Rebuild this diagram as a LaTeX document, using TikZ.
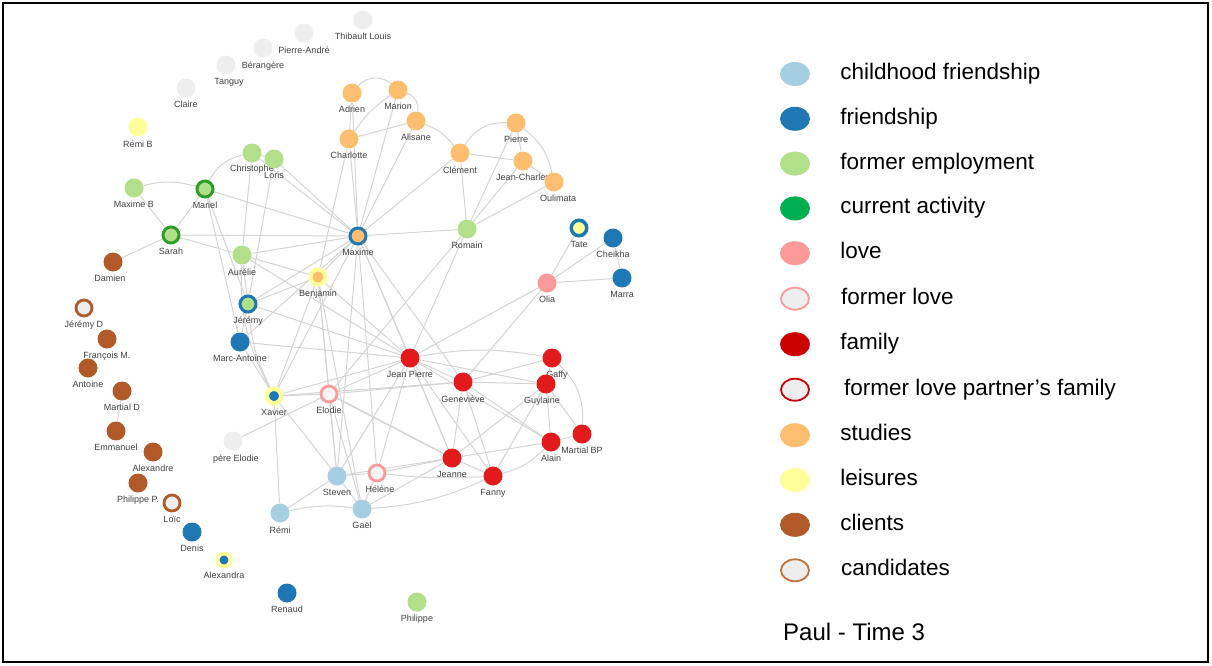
\documentclass[tikz,border=0pt]{standalone}
\usepackage{fontspec}
\setmainfont{Liberation Sans}
\usetikzlibrary{positioning,shapes.geometric,backgrounds}

\definecolor{childblue}{HTML}{A6CEE3}
\definecolor{friendblue}{HTML}{1F78B4}
\definecolor{workgreen}{HTML}{B2DF8A}
\definecolor{nowgreen}{HTML}{2E9E2A}
\definecolor{keygreen}{HTML}{00B050}
\definecolor{lovepink}{HTML}{FB9A99}
\definecolor{famred}{HTML}{E31A1C}
\definecolor{keyred}{HTML}{CC0000}
\definecolor{studyorange}{HTML}{FDBF6F}
\definecolor{leisureyellow}{HTML}{FFFF99}
\definecolor{clientbrown}{HTML}{B15928}
\definecolor{keybrown}{HTML}{C0703A}
\definecolor{nodegrey}{HTML}{EEEEEE}
\definecolor{tiegrey}{HTML}{D4D4D4}

\begin{document}
\begin{tikzpicture}
    [x=1pt, y=-1pt,
     person/.style={circle, minimum size=19pt, inner sep=0pt},
     ringed/.style={person, minimum size=16pt, line width=3pt},
     childhood/.style={person, fill=childblue},
     friend/.style={person, fill=friendblue},
     work/.style={person, fill=workgreen},
     love/.style={person, fill=lovepink},
     family/.style={person, fill=famred},
     studies/.style={person, fill=studyorange},
     leisure/.style={person, fill=leisureyellow},
     client/.style={person, fill=clientbrown},
     unknown/.style={person, fill=nodegrey},
     exlove/.style={ringed, fill=nodegrey!60!white, draw=lovepink, line width=2.8pt},
     candidate/.style={ringed, fill=nodegrey, draw=clientbrown, line width=2.8pt},
     lbl/.style={font=\fontsize{9}{10}\selectfont, text=black!75, inner sep=0.5pt},
     every label/.style={label distance=3pt},
     tie/.style={draw=tiegrey, line width=1pt},
     key/.style={ellipse, minimum width=30pt, minimum height=24pt, inner sep=0pt},
     ringkey/.style={key, minimum width=28pt, minimum height=22pt, line width=1.8pt, fill=nodegrey},
     keytext/.style={font=\fontsize{22.5}{24}\selectfont, inner sep=0pt, text height=16pt, text depth=5pt}]

  \useasboundingbox (0,0) rectangle (1212,666);
  \draw[line width=2.5pt] (3,3) rectangle (1208,662);

  % people nobody is tied to
  \node[unknown, label={[lbl]below:Thibault Louis}] (thibault) at (363,20) {};
  \node[unknown, label={[lbl]below:Pierre-André}] (pierreandre) at (304,33) {};
  \node[unknown, label={[lbl]below:Bérangère}] (berangere) at (263,48) {};
  \node[unknown, label={[lbl,xshift=3pt]below:Tanguy}] (tanguy) at (226,65) {};
  \node[unknown, label={[lbl]below:Claire}] (claire) at (186,88) {};
  \node[leisure, label={[lbl]below:Rémi B}] (remib) at (138,127) {};

  % studies
  \node[studies, label={[lbl]below:Adrien}] (adrien) at (352,93) {};
  \node[studies, label={[lbl]below:Marion}] (marion) at (398,90) {};
  \node[studies, label={[lbl]below:Alisane}] (alisane) at (416,121) {};
  \node[studies, label={[lbl]below:Charlotte}] (charlotte) at (349,139) {};
  \node[studies, label={[lbl]below:Clément}] (clement) at (460,153) {};
  \node[studies, label={[lbl]below:Pierre}] (pierre) at (516,123) {};
  \node[studies, label={[lbl]below:Jean-Charles}] (jeancharles) at (523,161) {};
  \node[studies, label={[lbl,xshift=4pt]below:Oulimata}] (oulimata) at (554,182) {};
  \node[ringed, fill=studyorange, draw=friendblue, label={[lbl]below:Maxime}] (maxime) at (358,236) {};
  \node[ringed, fill=studyorange, draw=leisureyellow, line width=4pt, minimum size=15pt, label={[lbl]below:Benjamin}] (benjamin) at (318,277) {};

  % work
  \node[work, label={[lbl]below:Romain}] (romain) at (467,229) {};
  \node[work, label={[lbl,yshift=1pt]below:Christophe}] (christophe) at (252,153) {};
  \node[work, label={[lbl]below:Loris}] (loris) at (274,159) {};
  \node[work, label={[lbl]below:Maxime B}] (maximeb) at (134,188) {};
  \node[ringed, fill=workgreen, draw=nowgreen, label={[lbl]below:Mariel}] (mariel) at (205,189) {};
  \node[ringed, fill=workgreen, draw=nowgreen, label={[lbl]below:Sarah}] (sarah) at (171,235) {};
  \node[work, label={[lbl]below:Aurélie}] (aurelie) at (242,255) {};
  \node[ringed, fill=workgreen, draw=friendblue, label={[lbl]below:Jérémy}] (jeremy) at (248,304) {};
  \node[work, label={[lbl]below:Philippe}] (philippe) at (417,602) {};

  % friends
  \node[friend, label={[lbl]below:Marc-Antoine}] (marcantoine) at (240,342) {};
  \node[ringed, fill=friendblue, draw=leisureyellow, line width=4.5pt, minimum size=14.5pt, label={[lbl]below:Xavier}] (xavier) at (274,396) {};
  \node[ringed, fill=leisureyellow, draw=friendblue, line width=3.5pt, minimum size=15.5pt, label={[lbl]below:Tate}] (tate) at (579,228) {};
  \node[friend, label={[lbl]below:Cheikha}] (cheikha) at (613,238) {};
  \node[friend, label={[lbl]below:Marra}] (marra) at (622,278) {};
  \node[love, label={[lbl]below:Olia}] (olia) at (547,283) {};
  \node[friend, label={[lbl]below:Denis}] (denis) at (192,532) {};
  \node[ringed, fill=friendblue, draw=leisureyellow, line width=4pt, minimum size=13pt, label={[lbl]below:Alexandra}] (alexandra) at (224,560) {};
  \node[friend, label={[lbl]below:Renaud}] (renaud) at (287,593) {};

  % childhood and former love
  \node[exlove, label={[lbl]below:Elodie}] (elodie) at (329,394) {};
  \node[unknown, label={[lbl,xshift=3pt]below:père Elodie}] (pereelodie) at (233,441) {};
  \node[exlove, label={[lbl,xshift=3pt]below:Hélène}] (helene) at (377,473) {};
  \node[childhood, label={[lbl]below:Steven}] (steven) at (337,476) {};
  \node[childhood, label={[lbl]below:Gaël}] (gael) at (362,509) {};
  \node[childhood, label={[lbl]below:Rémi}] (remi) at (280,513) {};

  % family
  \node[family, label={[lbl]below:Jean Pierre}] (jeanpierre) at (410,358) {};
  \node[family, label={[lbl]below:Geneviève}] (genevieve) at (463,382) {};
  \node[family, label={[lbl,xshift=5pt]below:Gaffy}] (gaffy) at (552,358) {};
  \node[family, label={[lbl,xshift=-4pt]below:Guylaine}] (guylaine) at (546,384) {};
  \node[family, label={[lbl]below:Alain}] (alain) at (551,442) {};
  \node[family, label={[lbl]below:Martial BP}] (martialbp) at (582,434) {};
  \node[family, label={[lbl]below:Jeanne}] (jeanne) at (452,458) {};
  \node[family, label={[lbl]below:Fanny}] (fanny) at (493,476) {};

  % clients and candidates
  \node[client, label={[lbl,xshift=-3pt]below:Damien}] (damien) at (113,262) {};
  \node[candidate, label={[lbl]below:Jérémy D}] (jeremyd) at (84,308) {};
  \node[client, label={[lbl]below:François M.}] (francois) at (107,339) {};
  \node[client, label={[lbl]below:Antoine}] (antoine) at (88,368) {};
  \node[client, label={[lbl]below:Martial D}] (martiald) at (122,391) {};
  \node[client, label={[lbl]below:Emmanuel}] (emmanuel) at (116,431) {};
  \node[client, label={[lbl]below:Alexandre}] (alexandre) at (153,452) {};
  \node[client, label={[lbl]below:Philippe P.}] (philippep) at (138,483) {};
  \node[candidate, label={[lbl]below:Loïc}] (loic) at (172,503) {};

  \begin{scope}[on background layer]
  % studies ties
  \draw[tie] (adrien) to[bend left=45] (marion);
  \draw[tie] (adrien) -- (charlotte);
  \draw[tie] (adrien) -- (maxime);
  \draw[tie] (marion) to[bend left=40] (alisane);
  \draw[tie] (charlotte) to[bend left=10] (marion);
  \draw[tie] (charlotte) -- (alisane);
  \draw[tie] (charlotte) -- (maxime);
  \draw[tie] (charlotte) -- (benjamin);
  \draw[tie] (alisane) to[bend left=15] (clement);
  \draw[tie] (clement) to[bend left=30] (pierre);
  \draw[tie] (clement) -- (jeancharles);
  \draw[tie] (clement) -- (romain);
  \draw[tie] (pierre) -- (jeancharles);
  \draw[tie] (pierre) to[bend left=20] (oulimata);
  \draw[tie] (jeancharles) -- (oulimata);
  \draw[tie] (pierre) -- (romain);
  \draw[tie] (jeancharles) -- (romain);
  \draw[tie] (oulimata) -- (romain);
  \draw[tie] (maxime) -- (romain);
  \draw[tie] (maxime) -- (clement);
  \draw[tie] (maxime) -- (alisane);
  \draw[tie] (maxime) -- (marion);
  \draw[tie] (romain) -- (jeanpierre);
  \draw[tie] (romain) -- (elodie);
  % work ties
  \draw[tie] (maximeb) to[bend left=15] (mariel);
  \draw[tie] (maximeb) -- (sarah);
  \draw[tie] (mariel) -- (sarah);
  \draw[tie] (mariel) to[bend left=25] (christophe);
  \draw[tie] (mariel) -- (maxime);
  \draw[tie] (mariel) -- (jeremy);
  \draw[tie] (mariel) -- (marcantoine);
  \draw[tie] (sarah) -- (maxime);
  \draw[tie] (sarah) -- (aurelie);
  \draw[tie] (sarah) -- (damien);
  \draw[tie] (christophe) -- (loris);
  \draw[tie] (christophe) -- (aurelie);
  \draw[tie] (christophe) -- (maxime);
  \draw[tie] (loris) -- (jeremy);
  \draw[tie] (loris) -- (maxime);
  \draw[tie] (aurelie) -- (maxime);
  \draw[tie] (aurelie) -- (benjamin);
  \draw[tie] (aurelie) -- (jeremy);
  \draw[tie] (aurelie) -- (jeanpierre);
  \draw[tie] (aurelie) to[bend right=15] (xavier);
  \draw[tie] (jeremy) -- (maxime);
  \draw[tie] (jeremy) -- (benjamin);
  \draw[tie] (jeremy) -- (marcantoine);
  \draw[tie] (jeremy) -- (jeanpierre);
  \draw[tie] (jeremy) to[bend right=10] (xavier);
  \draw[tie] (marcantoine) -- (maxime);
  \draw[tie] (marcantoine) -- (jeanpierre);
  \draw[tie] (marcantoine) -- (xavier);
  % middle ties
  \draw[tie] (xavier) -- (elodie);
  \draw[tie] (xavier) -- (jeanpierre);
  \draw[tie] (xavier) -- (steven);
  \draw[tie] (xavier) -- (remi);
  \draw[tie] (xavier) -- (benjamin);
  \draw[tie] (xavier) -- (maxime);
  \draw[tie] (xavier) -- (genevieve);
  \draw[tie] (elodie) -- (jeanpierre);
  \draw[tie] (elodie) -- (genevieve);
  \draw[tie] (elodie) -- (steven);
  \draw[tie] (elodie) -- (gael);
  \draw[tie] (elodie) -- (benjamin);
  \draw[tie, line width=1.6pt] (elodie) -- (jeanne);
  \draw[tie] (pereelodie) -- (elodie);
  \draw[tie] (steven) -- (helene);
  \draw[tie] (steven) -- (gael);
  \draw[tie] (steven) -- (remi);
  \draw[tie] (steven) -- (jeanpierre);
  \draw[tie] (steven) -- (jeanne);
  \draw[tie] (helene) -- (gael);
  \draw[tie] (helene) -- (jeanpierre);
  \draw[tie] (helene) -- (jeanne);
  \draw[tie] (helene) to[bend right=5] (fanny);
  \draw[tie] (gael) to[bend right=10] (remi);
  \draw[tie] (gael) -- (jeanne);
  \draw[tie] (gael) to[bend right=10] (fanny);
  \draw[tie] (benjamin) -- (maxime);
  \draw[tie] (benjamin) -- (jeanpierre);
  \draw[tie] (benjamin) -- (steven);
  \draw[tie] (benjamin) -- (gael);
  \draw[tie] (maxime) -- (jeanpierre);
  \draw[tie] (maxime) -- (jeanne);
  \draw[tie] (maxime) -- (genevieve);
  \draw[tie] (maxime) -- (steven);
  \draw[tie] (maxime) -- (helene);
  % family ties
  \draw[tie] (jeanpierre) -- (genevieve);
  \draw[tie] (jeanpierre) to[bend left=10] (gaffy);
  \draw[tie] (jeanpierre) -- (guylaine);
  \draw[tie] (jeanpierre) -- (jeanne);
  \draw[tie] (jeanpierre) -- (fanny);
  \draw[tie] (jeanpierre) -- (alain);
  \draw[tie] (genevieve) -- (gaffy);
  \draw[tie] (genevieve) -- (guylaine);
  \draw[tie] (genevieve) -- (jeanne);
  \draw[tie] (genevieve) -- (fanny);
  \draw[tie] (genevieve) -- (alain);
  \draw[tie] (gaffy) -- (guylaine);
  \draw[tie] (gaffy) to[bend left=25] (martialbp);
  \draw[tie] (guylaine) -- (alain);
  \draw[tie] (guylaine) -- (martialbp);
  \draw[tie] (guylaine) -- (jeanne);
  \draw[tie] (guylaine) -- (fanny);
  \draw[tie] (alain) -- (martialbp);
  \draw[tie] (alain) -- (jeanne);
  \draw[tie] (alain) to[bend left=15] (fanny);
  \draw[tie] (jeanne) -- (fanny);
  % friends of Olia
  \draw[tie] (olia) -- (tate);
  \draw[tie] (olia) -- (cheikha);
  \draw[tie] (olia) -- (marra);
  \draw[tie] (cheikha) -- (marra);
  \draw[tie] (olia) -- (jeanpierre);
  \draw[tie] (olia) -- (genevieve);
  % clients
  \draw[tie] (martiald) -- (emmanuel);
  \end{scope}

  % legend
  \node[key, fill=childblue] (kchild) at (795,74) {};
  \node[keytext, right=30pt of kchild] (tchild) {childhood friendship};
  \node[key, fill=friendblue, below=20.4pt of kchild] (kfriend) {};
  \node[keytext, right=30pt of kfriend] (tfriend) {friendship};
  \node[key, fill=workgreen, below=20.4pt of kfriend] (kwork) {};
  \node[keytext, right=30pt of kwork] (twork) {former employment};
  \node[key, fill=keygreen, below=20.4pt of kwork] (know) {};
  \node[keytext, right=30pt of know] (tnow) {current activity};
  \node[key, fill=lovepink, below=20.4pt of know] (klove) {};
  \node[keytext, right=30pt of klove] (tlove) {love};
  \node[ringkey, draw=lovepink, below=21.4pt of klove] (kexlove) {};
  \node[keytext, right=31pt of kexlove] (texlove) {former love};
  \node[key, fill=keyred, below=21.4pt of kexlove] (kfamily) {};
  \node[keytext, right=30pt of kfamily] (tfamily) {family};
  \node[ringkey, draw=keyred, below=21.4pt of kfamily] (kexfamily) {};
  \node[keytext, right=34pt of kexfamily] (texfamily) {former love partner’s family};
  \node[key, fill=studyorange, below=21.4pt of kexfamily] (kstudies) {};
  \node[keytext, right=30pt of kstudies] (tstudies) {studies};
  \node[key, fill=leisureyellow, below=20.4pt of kstudies] (kleisure) {};
  \node[keytext, right=30pt of kleisure] (tleisure) {leisures};
  \node[key, fill=clientbrown, below=20.4pt of kleisure] (kclient) {};
  \node[keytext, right=30pt of kclient] (tclient) {clients};
  \node[ringkey, draw=keybrown, below=21.4pt of kclient] (kcandidate) {};
  \node[keytext, right=31pt of kcandidate] (tcandidate) {candidates};

  \node[font=\fontsize{24}{26}\selectfont, inner sep=0pt, anchor=west] (title) at (783,632) {Paul - Time 3};
\end{tikzpicture}
\end{document}
